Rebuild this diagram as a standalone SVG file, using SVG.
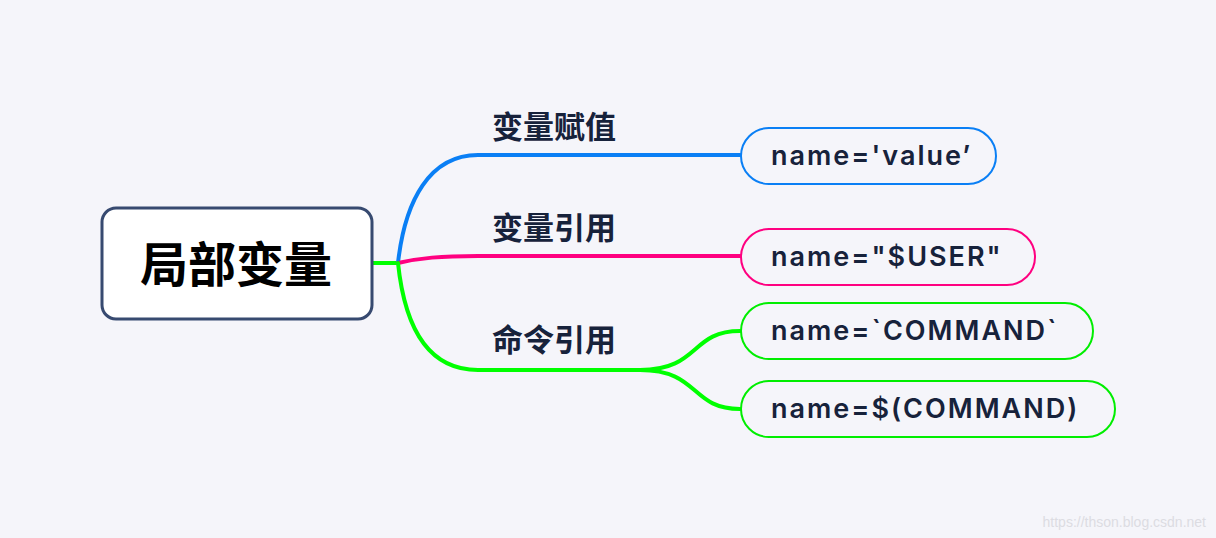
<svg xmlns="http://www.w3.org/2000/svg" width="1216" height="538" viewBox="0 0 1216 538">
<style>
.bg{fill:#f5f5fa}
.conn{fill:none;stroke-width:4;stroke-linecap:round}
.lbl{font-family:"Noto Sans CJK SC","Noto Sans",sans-serif;font-weight:700;font-size:31px;fill:#17223b}
.leaf{fill:#f5f5fa;stroke-width:2}
.lt{font-family:Inter,"Open Sans",sans-serif;font-weight:600;font-size:27px;letter-spacing:2px;fill:#17223b}
</style>
<rect class="bg" x="0" y="0" width="1216" height="538"/>
<g id="connectors">
<path class="conn" stroke="#00ff00" stroke-width="5" d="M373,263 L398,263"/>
<path class="conn" stroke="#0a7ff5" d="M398,263 C405,200 430,155 478,155 L740,155"/>
<path class="conn" stroke="#ff0080" d="M398,263 C420,258 440,256 478,256 L740,256"/>
<path class="conn" stroke="#00ff00" d="M398,263 C405,330 430,370 478,370 L650,370"/>
<path class="conn" stroke="#00ff00" d="M640,370 C700,370 690,331 740,331"/>
<path class="conn" stroke="#00ff00" d="M640,370 C700,370 690,409 740,409"/>
</g>
<g id="root">
<rect x="102" y="208" width="270" height="111" rx="14" fill="#ffffff" stroke="#374a70" stroke-width="3"/>
<text x="236" y="282" text-anchor="middle" font-family="Noto Sans CJK SC,sans-serif" font-weight="700" font-size="48" fill="#000000">局部变量</text>
</g>
<g id="b1"><text class="lbl" x="492" y="138">变量赋值</text></g>
<g id="b2"><text class="lbl" x="492" y="239">变量引用</text></g>
<g id="b3"><text class="lbl" x="492" y="351">命令引用</text></g>
<g id="l1">
<rect class="leaf" x="741" y="128" width="255" height="56" rx="28" stroke="#0a7ff5"/>
<text class="lt" x="771" y="165">name='value’</text>
</g>
<g id="l2">
<rect class="leaf" x="741" y="229" width="294" height="56" rx="28" stroke="#ff0080"/>
<text class="lt" x="771" y="266">name="$USER"</text>
</g>
<g id="l3">
<rect class="leaf" x="741" y="303" width="352" height="56" rx="28" stroke="#00ee00"/>
<text class="lt" x="771" y="340">name=`COMMAND`</text>
</g>
<g id="l4">
<rect class="leaf" x="741" y="381" width="374" height="56" rx="28" stroke="#00ee00"/>
<text class="lt" x="771" y="418">name=$(COMMAND)</text>
</g>
<text x="1206" y="527" text-anchor="end" font-family="Liberation Sans,sans-serif" font-size="14" fill="#dcdce2">https://thson.blog.csdn.net</text>
</svg>
